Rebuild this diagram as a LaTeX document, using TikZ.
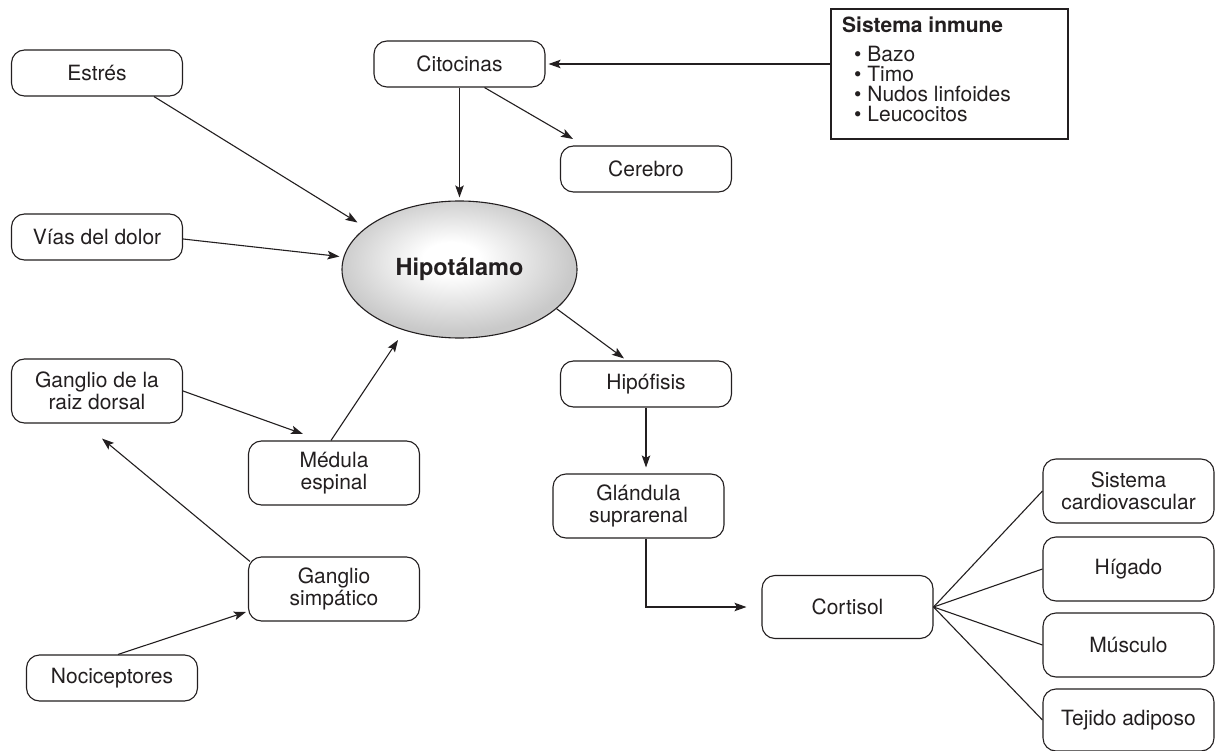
\documentclass[tikz,border=0pt]{standalone}
\usepackage{fontspec}
\setmainfont{TeX Gyre Heros}
\usetikzlibrary{arrows.meta,calc,shapes.geometric}
\definecolor{ink}{HTML}{231F20}
\pgfdeclareradialshading{hiposh}{\pgfpoint{-2bp}{4.5bp}}{color(0bp)=(white); color(6bp)=(white); color(25bp)=(black!21); color(50bp)=(black!24)}
\begin{document}
\begin{tikzpicture}[x=1pt,y=-1pt,
  every node/.style={font=\fontsize{21}{21.5}\selectfont, text=ink},
  box/.style={draw=ink, line width=1.1pt, rounded corners=13pt, minimum width=171pt, inner sep=2pt, align=center},
  onebox/.style={box, minimum height=46pt},
  twobox/.style={box, minimum height=64pt},
  arr/.style={draw=ink, line width=1.1pt, -{Stealth[length=12pt,width=8.5pt,inset=2.5pt]}},
  ln/.style={draw=ink, line width=1.1pt}]
\useasboundingbox[fill=white] (0,0) rectangle (1215,751);

% nodes
\node[onebox] (estres) at (97,73) {Estrés};
\node[onebox] (vias) at (97,237) {Vías del dolor};
\node[onebox] (cit) at (459.5,64) {Citocinas};
\node[onebox] (cerebro) at (646,169) {Cerebro};
\node[draw=ink, line width=1.1pt, ellipse, minimum width=235pt, minimum height=137pt, inner sep=0pt, shading=hiposh, font=\fontsize{23.5}{24}\selectfont\bfseries] (hipo) at (459.5,269.5) {Hipotálamo};
\node[twobox] (grd) at (97,391) {Ganglio de la\\raiz dorsal};
\node[twobox] (medula) at (334,473) {Médula\\espinal};
\node[onebox] (hipofisis) at (646,384) {Hipófisis};
\node[twobox] (glandula) at (638.5,506) {Glándula\\suprarenal};
\node[twobox] (gsimp) at (334,589) {Ganglio\\simpático};
\node[onebox] (noci) at (112,678) {Nociceptores};
\node[box, minimum height=63pt] (cortisol) at (847.5,607) {Cortisol};
\node[twobox] (cardio) at (1128.5,491) {Sistema\\cardiovascular};
\node[twobox] (higado) at (1128.5,569) {Hígado};
\node[twobox] (musculo) at (1128.5,645) {Músculo};
\node[box, minimum height=62pt] (tejido) at (1128.5,720) {Tejido adiposo};

% immune system box
\node[draw=ink, line width=1.1pt, minimum width=237pt, minimum height=130pt, inner sep=0pt] (immune) at (949.5,74) {};
\node[anchor=base west, inner sep=0pt, font=\fontsize{21}{21}\selectfont\bfseries] (immtitle) at (842,33) {Sistema inmune};
\node[anchor=base west, inner sep=0pt] (imm1) at (854,62) {• Bazo};
\node[anchor=base west, inner sep=0pt] (imm2) at (854,82) {• Timo};
\node[anchor=base west, inner sep=0pt] (imm3) at (854,102) {• Nudos linfoides};
\node[anchor=base west, inner sep=0pt] (imm4) at (854,122) {• Leucocitos};

% connectors
\draw[arr] ([shift={(57,0)}]estres.south) -- ([shift={(-102,-47)}]hipo.center);
\draw[arr] ([shift={(0,2)}]vias.east) -- ([shift={(-120,-13)}]hipo.center);
\draw[arr, shorten >=3pt] (cit.south) -- (cit.south |- hipo.north);
\draw[arr] ([shift={(25,0)}]cit.south) -- ([shift={(-73,-30)}]cerebro.center);
\draw[arr, shorten >=3pt] (immune.west |- cit.east) -- (cit.east);
\draw[arr] (hipo.-22) -- ([shift={(-22,-2)}]hipofisis.north);
\draw[arr, shorten >=6pt] (hipofisis.south) -- (hipofisis.south |- glandula.north);
\draw[arr, shorten >=15pt] ([shift={(7.5,0)}]glandula.south) |- (cortisol.west);
\draw[arr] (grd.east) -- ([shift={(-31,-39)}]medula.center);
\draw[arr] ([shift={(-3,0)}]medula.north) -- ([shift={(-61.5,70.5)}]hipo.center);
\draw[arr] ([shift={(2,5)}]gsimp.north west) -- ([shift={(5,15)}]grd.south);
\draw[arr] ([shift={(6,0)}]noci.north) -- ([shift={(-2,23)}]gsimp.west);
\draw[ln] (cortisol.east) -- (cardio.west);
\draw[ln] (cortisol.east) -- (higado.west);
\draw[ln] (cortisol.east) -- (musculo.west);
\draw[ln] (cortisol.east) -- (tejido.west);
\end{tikzpicture}
\end{document}
